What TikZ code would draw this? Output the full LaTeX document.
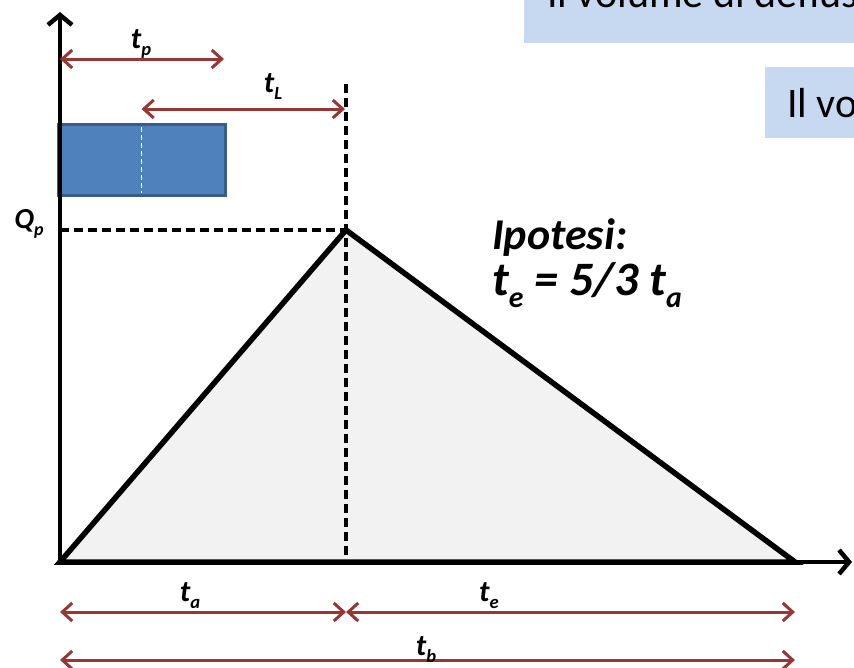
\documentclass[tikz,border=0pt]{standalone}
\usepackage{fontspec}
\setmainfont{Carlito}
\usetikzlibrary{arrows.meta}

\definecolor{dimred}{RGB}{150,55,53}
\definecolor{rainblue}{RGB}{79,129,189}
\definecolor{rainedge}{RGB}{56,93,138}
\definecolor{notefill}{RGB}{198,217,241}
\definecolor{hydrofill}{RGB}{242,242,242}

% lowered subscript, as in the slide
\newcommand{\lowsub}[1]{\raisebox{-0.25em}{\scalebox{0.62}{#1}}}

\begin{document}
\begin{tikzpicture}[x=1pt,y=-1pt,
  dim/.style={dimred,line width=3pt,
    {Straight Barb[length=10pt,width=18pt]}-{Straight Barb[length=10pt,width=18pt]}},
  axis/.style={line width=4.5pt,-{Straight Barb[length=10pt,width=24pt]}},
  guide/.style={line width=3.5pt,dash pattern=on 9pt off 5pt},
  lbl/.style={anchor=base,inner sep=0pt,font=\fontsize{30pt}{30pt}\selectfont\bfseries\itshape},
  note/.style={anchor=base west,inner sep=0pt,font=\fontsize{42pt}{42pt}\selectfont}]
\useasboundingbox (0,0) rectangle (854,667);
\clip (0,0) rectangle (854,667);

% text boxes cut by the slide
\fill[notefill] (524,-60) rectangle (900,43);
\node[note] (noteA) at (547,7) {Il volume di deflus};
\fill[notefill] (765,67) rectangle (900,138);
\node[note] (noteB) at (787,117) {Il vo};

% main points
\coordinate (O) at (60,562);
\coordinate (ytop) at (60,12);
\coordinate (xend) at (852,562);
\coordinate (peak) at (346,230);
\coordinate (tb) at (795,562);
\coordinate (qp) at (60,230);
\coordinate (lagtop) at (346,84);

% hydrograph
\filldraw[fill=hydrofill,line width=5.5pt] (O) -- (peak) -- (tb) -- cycle;
\draw[guide] (lagtop) -- (peak |- O);
\draw[guide] (qp) -- (peak);

% rain block
\filldraw[fill=rainblue,draw=rainedge,line width=3.5pt] (58.5,124.5) rectangle (225.5,195.5);
\draw[white,line width=1.5pt,dash pattern=on 5pt off 3pt] (141.5,127) -- (141.5,193);

% axes
\draw[axis] (O) -- (ytop);
\draw[axis] (O) -- (xend);

% dimensions
\coordinate (tpL) at (60,59);
\coordinate (tpR) at (224,59);
\coordinate (tlL) at (141.5,109);
\coordinate (tlR) at (345,109);
\coordinate (taL) at (60,612);
\coordinate (taR) at (346,612);
\coordinate (teR) at (795,612);
\coordinate (tbL) at (60,660);
\coordinate (tbR) at (795,660);
\draw[dim] (tpL) -- (tpR);
\draw[dim] (tlL) -- (tlR);
\draw[dim] (taL) -- (taR);
\draw[dim] (taR) -- (teR);
\draw[dim] (tbL) -- (tbR);

\node[lbl] (tplabel) at (141,48) {t\lowsub{p}};
\node[lbl] (tllabel) at (273,92) {t\lowsub{L}};
\node[lbl] (talabel) at (190,601) {t\lowsub{a}};
\node[lbl] (telabel) at (489,601) {t\lowsub{e}};
\node[lbl] (tblabel) at (426,655) {t\lowsub{b}};
\node[lbl,font=\fontsize{29pt}{29pt}\selectfont\bfseries\itshape] (qplabel) at (29,228) {Q\lowsub{p}};

% hypothesis
\node[anchor=base west,inner sep=0pt,font=\fontsize{44pt}{44pt}\selectfont\bfseries\itshape] (hyp) at (492,249) {Ipotesi:};
\node[anchor=base west,inner sep=0pt,font=\fontsize{48pt}{48pt}\selectfont\bfseries\itshape] (rule) at (492,295) {t\lowsub{e} = 5/3 t\lowsub{a}};
\end{tikzpicture}
\end{document}
